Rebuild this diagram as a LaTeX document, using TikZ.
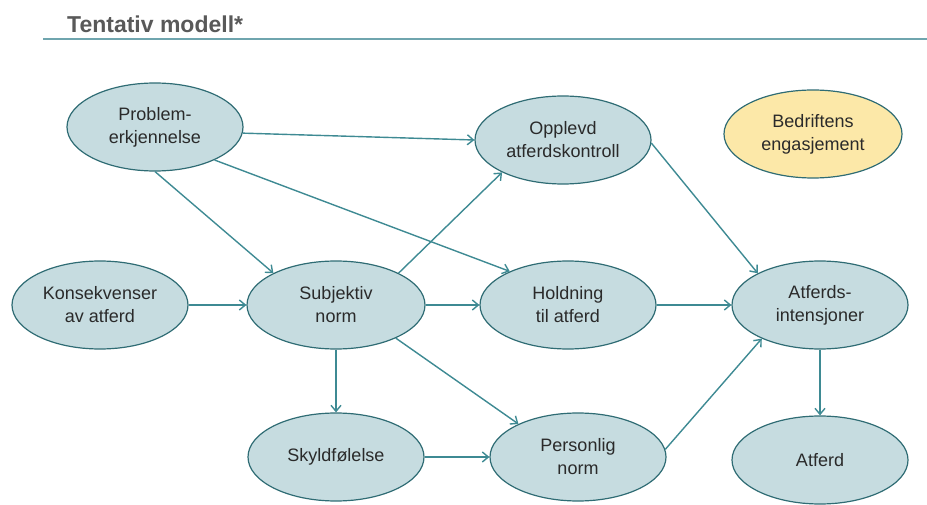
\documentclass[tikz,border=0pt]{standalone}
\usepackage{fontspec}
\setmainfont{Liberation Sans}
\usetikzlibrary{shapes.geometric,arrows.meta}
\definecolor{nodefill}{HTML}{C6DCE0}
\definecolor{nodeline}{HTML}{2F6C74}
\definecolor{arrowcol}{HTML}{3E8A93}
\definecolor{yellowfill}{HTML}{FCE8A8}
\definecolor{titlecol}{HTML}{595959}
\definecolor{rulecol}{HTML}{6FA5AE}
\definecolor{textcol}{HTML}{2A2A2A}
\tikzset{
  bubble/.style={ellipse, draw=nodeline, line width=1.2pt, fill=nodefill,
    minimum width=176pt, minimum height=88pt, inner sep=0pt, align=center,
    text=textcol, font={\fontsize{18}{23}\selectfont}},
  yellowbubble/.style={bubble, fill=yellowfill},
  conn/.style={draw=arrowcol, line width=1.4pt,
    -{Straight Barb[length=6pt,width=10pt,line width=1.4pt]}}
}
\begin{document}
\begin{tikzpicture}[x=1pt,y=-1pt]
\useasboundingbox (0,0) rectangle (927,505);
\node[anchor=base west, text=titlecol, font={\bfseries\fontsize{23}{26}\selectfont}, inner sep=0pt] (title) at (67,33) {Tentativ modell*};
\coordinate (ruleL) at (43,39);
\coordinate (ruleR) at (927,39);
\draw[rulecol, line width=2pt] (ruleL) -- (ruleR);

\node[bubble] (prob) at (155,127) {Problem-\\erkjennelse};
\node[bubble] (opp) at (563,140) {Opplevd\\atferdskontroll};
\node[yellowbubble, minimum width=178pt] (bed) at (813,134) {Bedriftens\\engasjement};
\node[bubble] (kons) at (100,305) {Konsekvenser\\av atferd};
\node[bubble, minimum width=178pt] (subj) at (336,305) {Subjektiv\\norm};
\node[bubble] (hold) at (568,305) {Holdning\\til atferd};
\node[bubble] (atf) at (820,305) {Atferds-\\intensjoner};
\node[bubble] (skyld) at (336,457) {Skyldfølelse};
\node[bubble] (pers) at (578,457) {Personlig\\norm};
\node[bubble] (atferd) at (820,460) {Atferd};

\draw[conn] (prob.-4) -- (opp.180);
\draw[conn] (prob.south) -- (subj.153);
\draw[conn] (prob.-29) -- (hold.150);
\draw[conn] (subj.27) -- (opp.208);
\draw[conn] (kons.east) -- (subj.west);
\draw[conn] (subj.east) -- (hold.west);
\draw[conn] (subj.south) -- (skyld.north);
\draw[conn] (subj.-29) -- (pers.151);
\draw[conn] (skyld.east) -- (pers.west);
\draw[conn] (opp.-2) -- (atf.153);
\draw[conn] (hold.east) -- (atf.west);
\draw[conn] (pers.5) -- (atf.210);
\draw[conn] (atf.south) -- (atferd.north);
\end{tikzpicture}
\end{document}
